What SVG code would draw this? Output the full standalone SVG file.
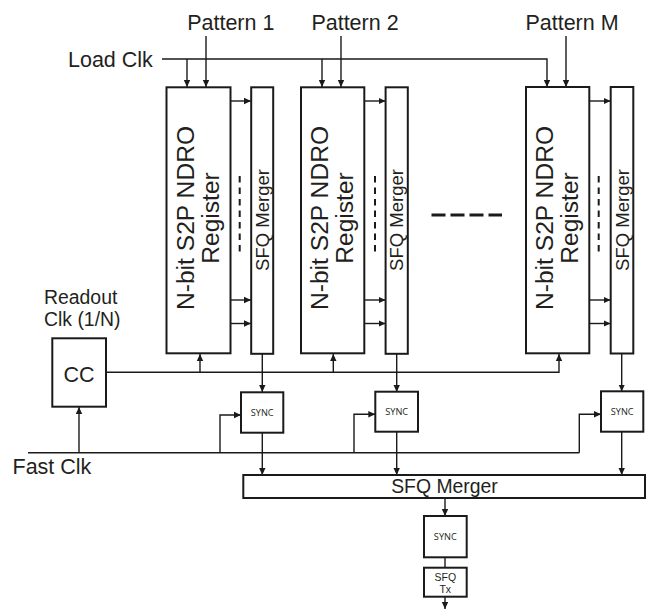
<svg xmlns="http://www.w3.org/2000/svg" width="649" height="612" viewBox="0 0 649 612">
  <defs>
    <marker id="arr" markerWidth="8" markerHeight="8" refX="7" refY="4" orient="auto" markerUnits="userSpaceOnUse">
      <path d="M0,0.8 L7,4 L0,7.2 Z" fill="#1a1a1a"/>
    </marker>
  </defs>
  <style>
    .box { fill: #fff; stroke: #1a1a1a; stroke-width: 2; }
    .wire { fill: none; stroke: #1a1a1a; stroke-width: 1.4; }
    .lbl { font-family: "Liberation Sans", Arial, sans-serif; fill: #231f20; }
    .big { font-size: 21.5px; }
    .mid { font-size: 19.4px; }
    .reg { font-size: 24.6px; text-anchor: middle; }
    .mrg { font-size: 18.5px; text-anchor: middle; }
    .sync { font-family: "Open Sans", "Liberation Sans", sans-serif; font-size: 9.2px; fill: #231f20; text-anchor: middle; }
    .dots { fill: none; stroke: #1a1a1a; stroke-width: 2; stroke-dasharray: 6.5 5; }
  </style>

  <rect width="649" height="612" fill="#fff"/>

  <!-- input labels -->
  <g id="labels">
    <text class="lbl big" x="230.8" y="30" text-anchor="middle">Pattern 1</text>
    <text class="lbl big" x="355" y="30" text-anchor="middle">Pattern 2</text>
    <text class="lbl big" x="572" y="30" text-anchor="middle">Pattern M</text>
    <text class="lbl big" x="68" y="67">Load Clk</text>
    <text class="lbl mid" x="44" y="304">Readout</text>
    <text class="lbl mid" x="44" y="326">Clk (1/N)</text>
    <text class="lbl big" x="12.5" y="474">Fast Clk</text>
  </g>

  <!-- connectors -->
  <g id="connectors" class="wire">
    <!-- load clock bus -->
    <polyline points="162,59 547,59 547,87" marker-end="url(#arr)"/>
    <line x1="187" y1="59" x2="187" y2="87" marker-end="url(#arr)"/>
    <line x1="322" y1="59" x2="322" y2="87" marker-end="url(#arr)"/>
    <!-- pattern inputs -->
    <line x1="206" y1="36" x2="206" y2="87" marker-end="url(#arr)"/>
    <line x1="341" y1="36" x2="341" y2="87" marker-end="url(#arr)"/>
    <line x1="566" y1="36" x2="566" y2="87" marker-end="url(#arr)"/>
    <!-- register to merger bits -->
    <line x1="231" y1="101" x2="251" y2="101" marker-end="url(#arr)"/>
    <line x1="231" y1="300" x2="251" y2="300" marker-end="url(#arr)"/>
    <line x1="231" y1="323.5" x2="251" y2="323.5" marker-end="url(#arr)"/>
    <line x1="364.5" y1="101" x2="385.5" y2="101" marker-end="url(#arr)"/>
    <line x1="364.5" y1="300" x2="385.5" y2="300" marker-end="url(#arr)"/>
    <line x1="364.5" y1="323.5" x2="385.5" y2="323.5" marker-end="url(#arr)"/>
    <line x1="589.5" y1="101" x2="610.5" y2="101" marker-end="url(#arr)"/>
    <line x1="589.5" y1="300" x2="610.5" y2="300" marker-end="url(#arr)"/>
    <line x1="589.5" y1="323.5" x2="610.5" y2="323.5" marker-end="url(#arr)"/>
    <!-- readout clock -->
    <polyline points="106,372.3 559,372.3 559,354" marker-end="url(#arr)"/>
    <line x1="200" y1="372.3" x2="200" y2="354" marker-end="url(#arr)"/>
    <line x1="333.3" y1="372.3" x2="333.3" y2="354" marker-end="url(#arr)"/>
    <!-- merger to sync -->
    <line x1="262.3" y1="354" x2="262.3" y2="392" marker-end="url(#arr)"/>
    <line x1="396.7" y1="354" x2="396.7" y2="392" marker-end="url(#arr)"/>
    <line x1="621.7" y1="354" x2="621.7" y2="391.5" marker-end="url(#arr)"/>
    <!-- fast clock -->
    <line x1="28" y1="452.7" x2="579.3" y2="452.7"/>
    <line x1="79" y1="452.7" x2="79" y2="407" marker-end="url(#arr)"/>
    <polyline points="220,452.7 220,415 241,415" marker-end="url(#arr)"/>
    <polyline points="354,452.7 354,414.3 375.3,414.3" marker-end="url(#arr)"/>
    <polyline points="579.3,452.7 579.3,414.3 601,414.3" marker-end="url(#arr)"/>
    <!-- sync to final merger -->
    <line x1="262.3" y1="432.7" x2="262.3" y2="475" marker-end="url(#arr)"/>
    <line x1="396.7" y1="431.7" x2="396.7" y2="475" marker-end="url(#arr)"/>
    <line x1="621.7" y1="431.7" x2="621.7" y2="475" marker-end="url(#arr)"/>
    <!-- output chain -->
    <line x1="445" y1="498" x2="445" y2="516" marker-end="url(#arr)"/>
    <line x1="445" y1="557.3" x2="445" y2="567.7"/>
    <line x1="445" y1="596.7" x2="445" y2="609" marker-end="url(#arr)"/>
    <!-- register array continuation -->
    <line x1="431.5" y1="215" x2="502" y2="215" stroke-width="3" stroke-dasharray="14 5"/>
  </g>

  <!-- register 1 -->
  <g id="reg1">
    <rect class="box" x="166.5" y="87.3" width="64" height="266"/>
    <text class="lbl reg" transform="translate(193.5,218) rotate(-90)">N-bit S2P NDRO</text>
    <text class="lbl reg" transform="translate(218.5,218) rotate(-90)">Register</text>
    <line class="dots" x1="239.7" y1="176" x2="239.7" y2="254"/>
  </g>
  <g id="merger1">
    <rect class="box" x="251.2" y="87.3" width="22" height="266.5"/>
    <text class="lbl mrg" transform="translate(268.8,220) rotate(-90)">SFQ Merger</text>
  </g>

  <!-- register 2 -->
  <g id="reg2">
    <rect class="box" x="301" y="87.3" width="63.3" height="266"/>
    <text class="lbl reg" transform="translate(328,218) rotate(-90)">N-bit S2P NDRO</text>
    <text class="lbl reg" transform="translate(353,218) rotate(-90)">Register</text>
    <line class="dots" x1="375" y1="176" x2="375" y2="254"/>
  </g>
  <g id="merger2">
    <rect class="box" x="385.6" y="87.3" width="22.2" height="266.5"/>
    <text class="lbl mrg" transform="translate(403.2,220) rotate(-90)">SFQ Merger</text>
  </g>

  <!-- register M -->
  <g id="regM">
    <rect class="box" x="526" y="87" width="63.3" height="266.3"/>
    <text class="lbl reg" transform="translate(553,218) rotate(-90)">N-bit S2P NDRO</text>
    <text class="lbl reg" transform="translate(578,218) rotate(-90)">Register</text>
    <line class="dots" x1="598.7" y1="176" x2="598.7" y2="254"/>
  </g>
  <g id="mergerM">
    <rect class="box" x="610.7" y="87" width="22.6" height="266.5"/>
    <text class="lbl mrg" transform="translate(628.5,220) rotate(-90)">SFQ Merger</text>
  </g>

  <!-- clock controller -->
  <g id="cc">
    <rect class="box" x="52.3" y="338.3" width="53.7" height="68.4"/>
    <text class="lbl" x="79" y="382" font-size="21.5" text-anchor="middle">CC</text>
  </g>

  <!-- synchronizers -->
  <g id="sync1">
    <rect class="box" x="241" y="392.3" width="42.3" height="40.4"/>
    <text class="sync" x="262.2" y="415.8">SYNC</text>
  </g>
  <g id="sync2">
    <rect class="box" x="375.3" y="391.7" width="42.7" height="40"/>
    <text class="sync" x="396.7" y="415.2">SYNC</text>
  </g>
  <g id="syncM">
    <rect class="box" x="601" y="391.3" width="42.3" height="40.4"/>
    <text class="sync" x="622.2" y="415">SYNC</text>
  </g>

  <!-- final merger -->
  <g id="merger-out">
    <rect class="box" x="243.3" y="475" width="401.7" height="23"/>
    <text class="lbl" x="444.5" y="493.3" font-size="19.4" text-anchor="middle">SFQ Merger</text>
  </g>

  <g id="sync-out">
    <rect class="box" x="424" y="516" width="42.7" height="41.3"/>
    <text class="sync" x="445.3" y="540">SYNC</text>
  </g>

  <g id="sfq-tx">
    <rect class="box" x="424" y="567.7" width="42.7" height="29"/>
    <text class="lbl" x="445.3" y="580.5" font-size="10.5" text-anchor="middle">SFQ</text>
    <text class="lbl" x="445.3" y="592.5" font-size="10.5" text-anchor="middle">Tx</text>
  </g>
</svg>
